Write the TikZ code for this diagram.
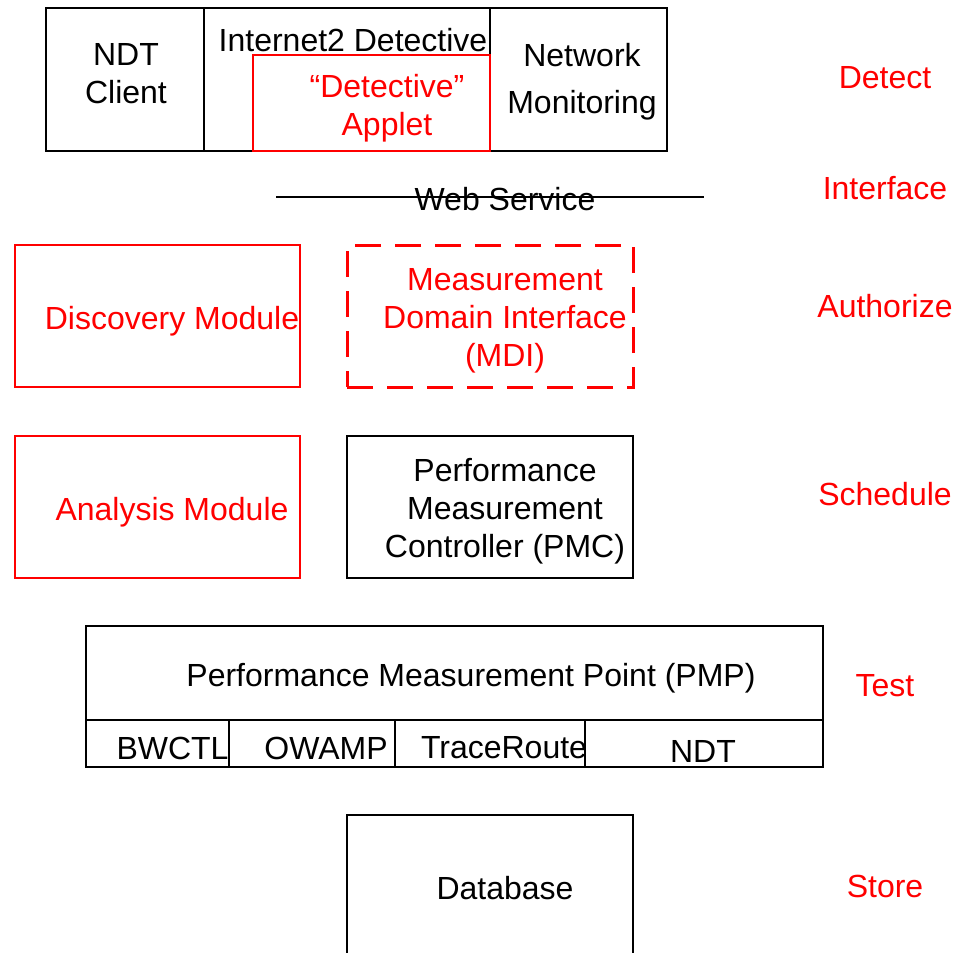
\documentclass[tikz,border=0pt]{standalone}
\usepackage{fontspec}
\setmainfont{Liberation Sans}
\usetikzlibrary{positioning}
\definecolor{layerred}{RGB}{255,0,0}
\tikzset{
  box/.style    = {draw, rectangle, line width=1.5pt, outer sep=0pt, inner sep=0pt},
  redbox/.style = {box, draw=layerred},
  mdibox/.style = {box, draw=layerred, line width=3pt, dash pattern=on 26pt off 14pt},
  txt/.style    = {align=center, inner sep=0pt, font=\fontsize{32}{38}\selectfont},
  redtxt/.style = {txt, text=layerred},
  cell/.style   = {box, minimum height=47pt}
}

\begin{document}
\begin{tikzpicture}[x=1pt, y=-1pt]
    \useasboundingbox (0,0) rectangle (956,953);
    \clip (0,0) rectangle (956,953);

    % detect
    \node[box, minimum width=158pt, minimum height=143pt] (ndt) at (125,79.5) {};
    \node[box, minimum width=286pt, minimum height=143pt, right=0pt of ndt] (detective) {};
    \node[box, minimum width=177pt, minimum height=143pt, right=0pt of detective] (netmon) {};
    \node[redbox, minimum width=237pt, minimum height=96pt, anchor=south east] (applet) at (detective.south east) {};
    \node[txt] (ndt-t) at (126,74) {NDT\\Client};
    \node[txt] (detective-t) at (353,40) {Internet2 Detective};
    \node[redtxt] (applet-t) at (387,108) {“Detective”\\Applet};
    \node[txt] (netmon-t) at (582,82) {Network\\[9pt]Monitoring};

    % web service
    \coordinate (ws-l) at (276,197);
    \coordinate (ws-r) at (704,197);
    \draw[line width=1.5pt] (ws-l) -- (ws-r);
    \node[txt] (ws) at (505,199) {Web Service};

    % authorize / schedule
    \node[redbox, minimum width=285pt, minimum height=142pt] (disc) at (157.5,316) {};
    \node[mdibox, minimum width=286pt, minimum height=142pt] (mdi) at (490,316) {};
    \node[redbox, minimum width=285pt, minimum height=142pt, below=49pt of disc] (ana) {};
    \node[box, minimum width=286pt, minimum height=142pt, below=49pt of mdi] (pmc) {};
    \node[redtxt] (disc-t) at (172,321) {Discovery Module};
    \node[redtxt] (mdi-t) at (505,321) {Measurement\\Domain Interface\\(MDI)};
    \node[redtxt] (ana-t) at (172,512) {Analysis Module};
    \node[txt] (pmc-t) at (505,511) {Performance\\Measurement\\Controller (PMC)};

    % test
    \node[box, minimum width=737pt, minimum height=94pt] (pmp) at (454.5,673) {};
    \node[cell, minimum width=143pt, below right=0pt of pmp.south west] (bwctl) {};
    \node[cell, minimum width=166pt, right=0pt of bwctl] (owamp) {};
    \node[cell, minimum width=190pt, right=0pt of owamp] (trace) {};
    \node[cell, minimum width=238pt, right=0pt of trace] (ndtc) {};
    \node[txt] (pmp-t) at (471,678) {Performance Measurement Point (PMP)};
    \node[txt] (bwctl-t) at (172.5,748) {BWCTL};
    \node[txt] (owamp-t) at (326,748) {OWAMP};
    \node[txt] (trace-t) at (504,748) {TraceRoute};
    \node[txt] (ndtc-t) at (703,751) {NDT};

    % store
    \node[box, minimum width=286pt, minimum height=146pt, anchor=north] (db) at (490,815) {};
    \node[txt] (db-t) at (505,888) {Database};

    % layers
    \node[redtxt] (detect) at (885,78) {Detect};
    \node[redtxt] (iface) at (885,188) {Interface};
    \node[redtxt] (auth) at (885,306) {Authorize};
    \node[redtxt] (sched) at (885,494) {Schedule};
    \node[redtxt] (test) at (885,686) {Test};
    \node[redtxt] (store) at (885,886) {Store};
\end{tikzpicture}
\end{document}
